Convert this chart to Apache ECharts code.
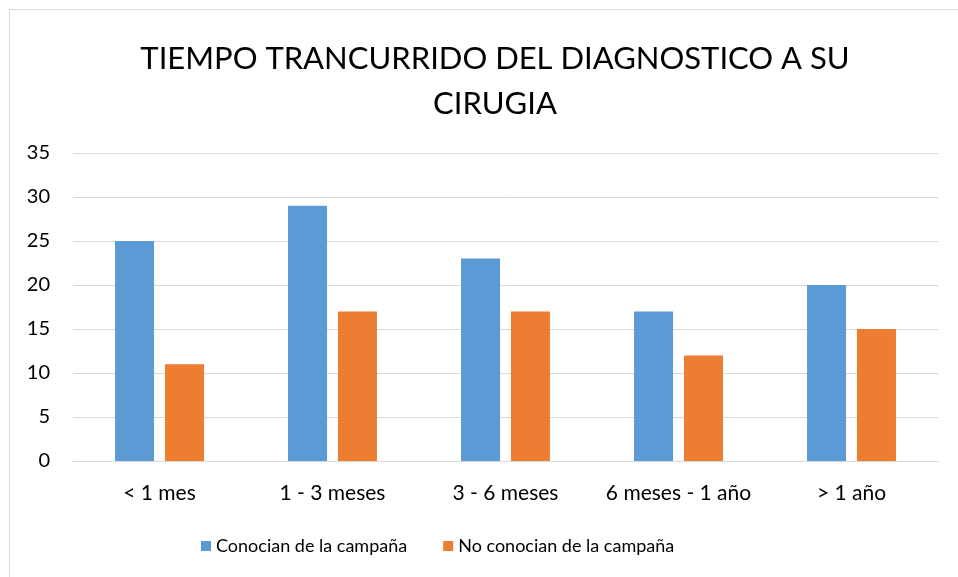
<!DOCTYPE html>
<html>
<head>
<meta charset="utf-8">
<script src="https://cdn.jsdelivr.net/npm/echarts@6/dist/echarts.min.js"></script>
<style>
  html, body { margin: 0; padding: 0; background: #fff; }
  #chart { width: 958px; height: 577px; }
</style>
</head>
<body>
<div id="chart"></div>
<script>
const categories = ['< 1 mes', '1 - 3 meses', '3 - 6 meses', '6 meses - 1 año', '> 1 año']
const conocian = [25, 29, 23, 17, 20]
const noConocian = [11, 17, 17, 12, 15]
const seriesNames = ['Conocian de la campaña', 'No conocian de la campaña']
const titleText = 'TIEMPO TRANCURRIDO DEL DIAGNOSTICO A SU\nCIRUGIA'

const font = 'Lato, "Open Sans", sans-serif'
let chart = echarts.init(document.getElementById('chart'))

let option = {
  animation: false,
  textStyle: { fontFamily: font },
  graphic: [
    {
      type: 'rect',
      shape: { x: 9.5, y: 9.5, width: 960, height: 580 },
      style: { fill: 'none', stroke: '#d9d9d9', lineWidth: 1 }
    }
  ],
  title: {
    text: titleText,
    left: 490,
    textAlign: 'center',
    top: 31,
    textStyle: {
      fontFamily: font,
      fontWeight: 'normal',
      fontSize: 31,
      lineHeight: 45,
      color: '#000'
    }
  },
  grid: {
    left: 73,
    right: 20,
    top: 153,
    bottom: 116
  },
  xAxis: {
    type: 'category',
    data: categories,
    axisLine: { lineStyle: { color: '#d9d9d9' } },
    axisTick: { show: false },
    axisLabel: { color: '#000', fontSize: 21, margin: 22, interval: 0, fontFamily: font }
  },
  yAxis: {
    type: 'value',
    min: 0,
    max: 35,
    interval: 5,
    splitLine: { lineStyle: { color: '#d9d9d9', width: 1 } },
    axisLabel: { color: '#000', fontSize: 20, margin: 23, fontFamily: font }
  },
  legend: {
    data: seriesNames,
    bottom: 17,
    left: 196,
    itemWidth: 10,
    itemHeight: 10,
    itemGap: 36,
    icon: 'rect',
    textStyle: { color: '#000', fontSize: 18, fontFamily: font }
  },
  series: [
    {
      name: seriesNames[0],
      type: 'bar',
      data: conocian,
      barWidth: 39,
      barGap: '28%',
      itemStyle: { color: '#5b9bd5' }
    },
    {
      name: seriesNames[1],
      type: 'bar',
      data: noConocian,
      barWidth: 39,
      itemStyle: { color: '#ed7d31' }
    }
  ]
}

chart.setOption(option)
</script>
</body>
</html>
